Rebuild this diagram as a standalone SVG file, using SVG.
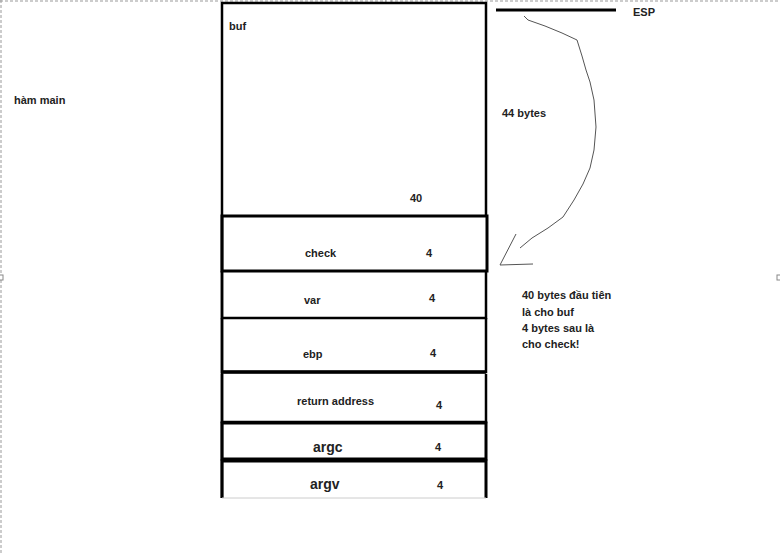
<svg xmlns="http://www.w3.org/2000/svg" width="780" height="553" viewBox="0 0 780 553">
<style>
text{font-family:"Liberation Sans",Arial,sans-serif;font-weight:bold;fill:#222;font-size:11px}
.big{font-size:14px}
.box{fill:none;stroke:#000;stroke-width:2.5}
.thick{fill:none;stroke:#000;stroke-width:3}
.hand{fill:none;stroke:#555;stroke-width:1;stroke-linejoin:round}
.sel{fill:none;stroke:#999;stroke-width:1;stroke-dasharray:3 2}
</style>
<rect width="780" height="553" fill="#fff"/>
<g id="selection">
<line class="sel" x1="0" y1="1" x2="780" y2="1"/>
<line class="sel" x1="1" y1="0" x2="1" y2="553"/>
<rect x="386" y="-1" width="5" height="4" fill="#fff" stroke="#888" stroke-width="1"/>
<rect x="-1" y="275" width="4" height="5" fill="#fff" stroke="#888" stroke-width="1"/>
<rect x="777" y="275" width="4" height="5" fill="#fff" stroke="#888" stroke-width="1"/>
</g>
<g id="label-main"><text x="14" y="104">hàm main</text></g>
<g id="buf">
<path class="box" d="M222 498 V3 H486 V216"/>
<text x="229" y="30">buf</text>
<text x="410" y="202">40</text>
</g>
<g id="check">
<rect class="thick" x="222" y="216" width="265" height="55"/>
<text x="305" y="257">check</text>
<text x="426" y="257">4</text>
</g>
<g id="var">
<path class="box" d="M222 271 V318 H486 V271"/>
<text x="304" y="304">var</text>
<text x="429" y="302">4</text>
</g>
<g id="ebp">
<path class="box" d="M222 318 V372 H486 V318"/>
<line x1="222" y1="372" x2="486" y2="372" stroke="#000" stroke-width="3.5"/>
<text x="303" y="358">ebp</text>
<text x="430" y="357">4</text>
</g>
<g id="return-address">
<path class="box" d="M222 374 V422 H486 V374"/>
<text x="297" y="405">return address</text>
<text x="436" y="409">4</text>
</g>
<g id="argc">
<rect class="thick" x="222" y="423" width="264" height="36"/>
<text class="big" x="313" y="452">argc</text>
<text x="435" y="451">4</text>
</g>
<g id="argv">
<path class="thick" d="M222 498 V461 H486 V498"/>
<line x1="222" y1="498" x2="486" y2="498" stroke="#ccc" stroke-width="1"/>
<text class="big" x="310" y="489">argv</text>
<text x="437" y="489">4</text>
</g>
<g id="esp">
<line x1="496" y1="10" x2="616" y2="10" stroke="#000" stroke-width="3"/>
<text x="633" y="16">ESP</text>
</g>
<g id="connectors">
<path class="hand" d="M524 16 L528 20 L545 26 L562 33 L577 40 L582 56 L586 70 L590 82 L594 100 L596 127 L594 150 L590 168 L583 184 L574 200 L563 217 L548 228 L532 238 L520 248"/>
<path class="hand" d="M516 234 L500 265 L533 264"/>
</g>
<g id="label-44"><text x="502" y="117">44 bytes</text></g>
<g id="note">
<text x="522" y="299">40 bytes đầu tiên</text>
<text x="522" y="316">là cho buf</text>
<text x="522" y="332">4 bytes sau là</text>
<text x="522" y="348">cho check!</text>
</g>
</svg>
